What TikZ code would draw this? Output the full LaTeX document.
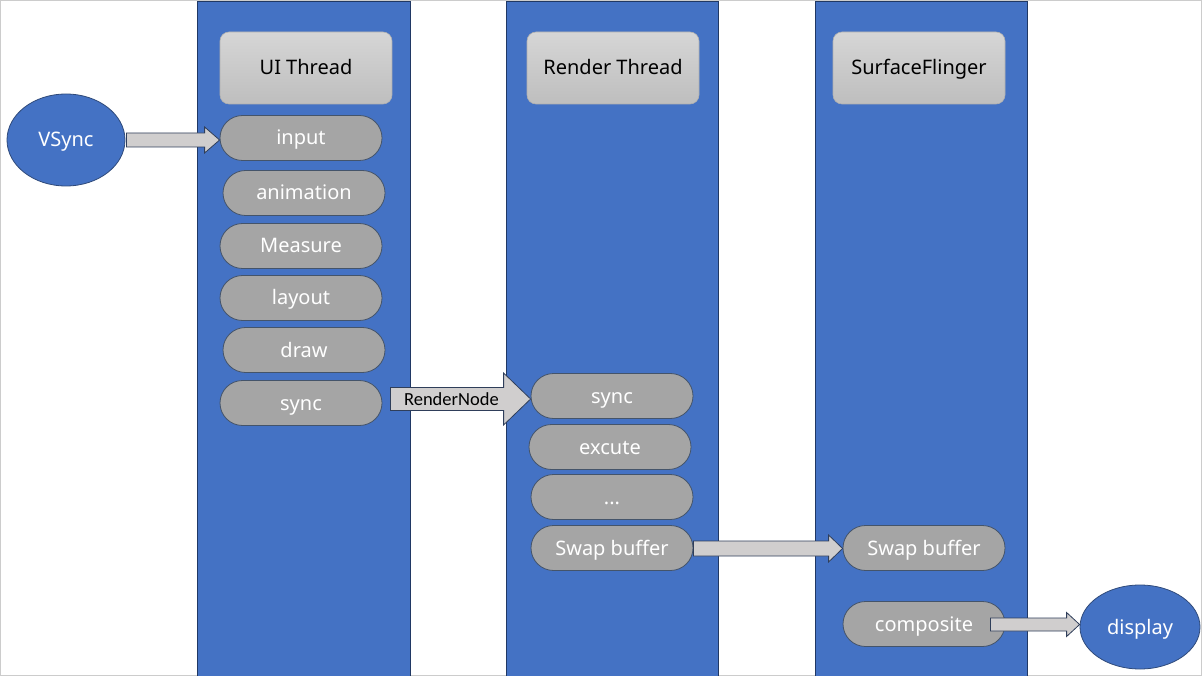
\documentclass[tikz,border=0pt]{standalone}
\usepackage{fontspec}
\setmainfont{Noto Sans}
\newfontfamily\calfont{Carlito}
\usetikzlibrary{shapes.geometric,calc}
\definecolor{colblue}{HTML}{4472C4}
\definecolor{coledge}{HTML}{203864}
\definecolor{pillfill}{HTML}{A5A5A5}
\definecolor{pilledge}{HTML}{44546A}
\definecolor{headtop}{HTML}{D6D6D6}
\definecolor{headbot}{HTML}{BEBEBE}
\definecolor{headedge}{HTML}{B0B0B0}
\definecolor{arrfill}{HTML}{D0CECE}
\definecolor{arredge}{HTML}{2F3E5A}
\definecolor{elledge}{HTML}{2F4A7A}
\newcommand{\blockarrow}[5]{%
  \draw[barrow] let \p1=(#1), \p2=(#2) in
    (\x1,\y1+#3) -- (\x2-#5,\y1+#3) -- (\x2-#5,\y1+#4) -- (\x2,\y1)
    -- (\x2-#5,\y1-#4) -- (\x2-#5,\y1-#3) -- (\x1,\y1-#3) -- cycle;}
\tikzset{
  txt/.style={text height=17pt, text depth=3pt, font=\fontsize{20}{24}\selectfont},
  colrect/.style={draw=coledge, line width=0.9pt, fill=colblue},
  header/.style={txt, draw=headedge, line width=0.6pt, rounded corners=9pt,
    top color=headtop, bottom color=headbot, minimum width=172pt,
    minimum height=72pt, inner sep=0pt, text=black},
  pill/.style={txt, draw=pilledge, line width=0.8pt, fill=pillfill, rounded corners=22.5pt,
    minimum width=162pt, minimum height=45pt, inner sep=0pt, text=white},
  oval/.style={txt, ellipse, draw=elledge, line width=0.8pt, fill=colblue, inner sep=0pt,
    text=white},
  barrow/.style={draw=arredge, line width=0.8pt, fill=arrfill, line join=miter},
  lbl/.style={text=black, inner sep=0pt, font=\calfont\fontsize{18.5}{22}\selectfont}
}
\begin{document}
\begin{tikzpicture}[x=1pt,y=-1pt]
\useasboundingbox (0,0) rectangle (1202,676);
\fill[white] (0,0) rectangle (1202,676);
\draw[gray!40, line width=1pt] (0.5,0.5) rectangle (1201.5,675.5);
% columns
\draw[colrect] (197,1) rectangle (410,690);
\draw[colrect] (506,1) rectangle (718,690);
\draw[colrect] (815,1) rectangle (1027,690);
% headers
\node[header] (ht1) at (306,68) {UI Thread};
\node[header] (ht2) at (613,68) {Render Thread};
\node[header] (ht3) at (919,68) {SurfaceFlinger};
% UI thread pills
\node[pill] (in) at (301,138) {input};
\node[pill] (an) at (304,193) {animation};
\node[pill] (me) at (301,246) {Measure};
\node[pill] (la) at (301,298) {layout};
\node[pill] (dr) at (304,350) {draw};
\node[pill] (us) at (301,403) {sync};
% render thread pills
\node[pill] (rs) at (612,396) {sync};
\node[pill] (ex) at (610,447) {excute};
\node[pill] (dt) at (612,497) {...};
\node[pill] (rsw) at (612,548) {Swap buffer};
% surfaceflinger pills
\node[pill] (ssw) at (924,548) {Swap buffer};
\node[pill] (cp) at (924,624) {composite};
% ellipses
\node[oval, minimum width=118pt, minimum height=92pt] (vs) at (66,140) {VSync};
\node[oval, minimum width=120pt, minimum height=84pt] (dp) at (1140,627) {display};
% arrows
\blockarrow{$(vs.east)+(1,0)$}{in.west}{7}{13}{15}
\blockarrow{$(us.east)+(8,-4)$}{rs.west}{11.5}{26}{27}
\node[lbl] (rn) at ($(us.east)+(69,-4)$) {RenderNode};
\blockarrow{$(rsw.east)+(0,0.5)$}{ssw.west}{7.5}{13.5}{14}
\blockarrow{$(cp.east)+(-15,0.5)$}{dp.west}{6.5}{12}{13}
\end{tikzpicture}
\end{document}
